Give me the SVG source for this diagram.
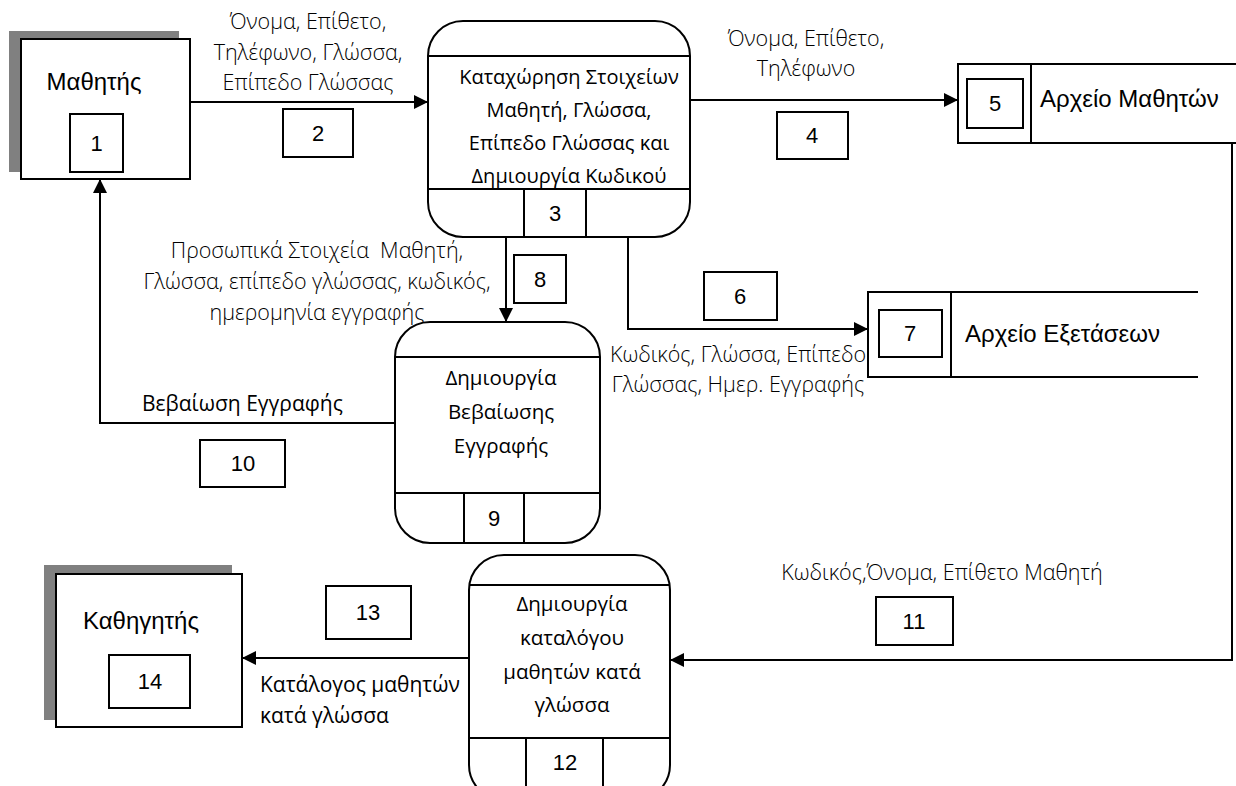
<svg xmlns="http://www.w3.org/2000/svg" width="1236" height="786" viewBox="0 0 1236 786">
<style>
.box{fill:#fff;stroke:#000;stroke-width:2}
.nb{fill:none;stroke:#000;stroke-width:2}
.ln{fill:none;stroke:#000;stroke-width:2}
.sh{fill:#808080}
.name{font-family:"Liberation Sans",Arial,sans-serif;font-size:24px;fill:#000}
.num{font-family:"Liberation Sans",Arial,sans-serif;font-size:22px;fill:#000;text-anchor:middle}
.ptx{font-family:"Open Sans","Noto Sans",sans-serif;font-size:20px;fill:#000;text-anchor:middle}
.ptx2{font-family:"Open Sans","Noto Sans",sans-serif;font-size:20.5px;fill:#000;text-anchor:middle}
.lbl{font-family:"Open Sans","Noto Sans",sans-serif;font-size:21.5px;font-weight:300;fill:#000;text-anchor:middle;white-space:pre}
.lbr{font-family:"Open Sans","Noto Sans",sans-serif;font-size:21px;fill:#000}
</style>
<defs>
<marker id="arr" viewBox="0 0 14 14" refX="14" refY="7" markerWidth="14" markerHeight="14" markerUnits="userSpaceOnUse" orient="auto">
<path d="M0,0 L14,7 L0,14 Z" fill="#000"/>
</marker>
</defs>
<rect width="1236" height="786" fill="#fff"/>

<g id="connectors">
<path class="ln" d="M190,102 H428" marker-end="url(#arr)"/>
<path class="ln" d="M690,100 H958" marker-end="url(#arr)"/>
<path class="ln" d="M506,237 V322" marker-end="url(#arr)"/>
<path class="ln" d="M628,237 V329 H868" marker-end="url(#arr)"/>
<path class="ln" d="M395,423 H100 V179" marker-end="url(#arr)"/>
<path class="ln" d="M1232,143 V660 H670" marker-end="url(#arr)"/>
<path class="ln" d="M469,658 H242" marker-end="url(#arr)"/>
</g>

<g id="flow-labels">
<text class="lbl" x="308" y="29">Όνομα, Επίθετο,</text>
<text class="lbl" x="308" y="60">Τηλέφωνο, Γλώσσα,</text>
<text class="lbl" x="308" y="90">Επίπεδο Γλώσσας</text>
<rect class="box" x="283" y="109" width="70" height="48"/>
<text class="num" x="318" y="141">2</text>

<text class="lbl" x="806" y="46">Όνομα, Επίθετο,</text>
<text class="lbl" x="806" y="76">Τηλέφωνο</text>
<rect class="box" x="777" y="112" width="71" height="47"/>
<text class="num" x="812" y="143">4</text>

<text class="lbl" x="317" y="258" xml:space="preserve">Προσωπικά Στοιχεία  Μαθητή,</text>
<text class="lbl" x="317" y="289">Γλώσσα, επίπεδο γλώσσας, κωδικός,</text>
<text class="lbl" x="317" y="320">ημερομηνία εγγραφής</text>
<rect class="box" x="514" y="255" width="52" height="48"/>
<text class="num" x="540" y="287">8</text>

<rect class="box" x="704" y="272" width="73" height="48"/>
<text class="num" x="740" y="304">6</text>
<text class="lbl" x="738" y="362">Κωδικός, Γλώσσα, Επίπεδο</text>
<text class="lbl" x="738" y="392">Γλώσσας, Ημερ. Εγγραφής</text>

<text class="lbr" x="142" y="411">Βεβαίωση Εγγραφής</text>
<rect class="box" x="200" y="440" width="85" height="47"/>
<text class="num" x="243" y="471">10</text>

<text class="lbl" x="942" y="580">Κωδικός,Όνομα, Επίθετο Μαθητή</text>
<rect class="box" x="876" y="597" width="77" height="48"/>
<text class="num" x="914" y="629">11</text>

<rect class="box" x="326" y="586" width="85" height="53"/>
<text class="num" x="368" y="620">13</text>
<text class="lbr" x="260" y="692">Κατάλογος μαθητών</text>
<text class="lbr" x="260" y="723">κατά γλώσσα</text>
</g>

<g id="n1">
<rect class="sh" x="9" y="31" width="170" height="141"/>
<rect class="box" x="21" y="39" width="169" height="140"/>
<text class="name" x="94" y="90" text-anchor="middle">Μαθητής</text>
<rect class="box" x="70" y="114" width="53" height="58"/>
<text class="num" x="96.5" y="151">1</text>
</g>

<g id="p3">
<rect class="box" x="428" y="21" width="262" height="216" rx="35"/>
<path class="nb" d="M428,56 H690 M428,189 H690 M524,189 V237 M586,189 V237"/>
<text class="ptx" x="569" y="84">Καταχώρηση Στοιχείων</text>
<text class="ptx" x="569" y="117">Μαθητή, Γλώσσα,</text>
<text class="ptx" x="569" y="150">Επίπεδο Γλώσσας και</text>
<text class="ptx" x="569" y="183">Δημιουργία Κωδικού</text>
<text class="num" x="555" y="221">3</text>
</g>

<g id="d5">
<path class="nb" d="M1236,64 H958 V143 H1236 M1031,64 V143"/>
<rect class="box" x="967" y="79" width="56" height="49"/>
<text class="num" x="995" y="111">5</text>
<text class="name" x="1040" y="107">Αρχείο Μαθητών</text>
</g>

<g id="d7">
<path class="nb" d="M1198,292 H868 V377 H1198 M951,292 V377"/>
<rect class="box" x="879" y="310" width="63" height="47"/>
<text class="num" x="910" y="341">7</text>
<text class="name" x="965" y="342">Αρχείο Εξετάσεων</text>
</g>

<g id="p9">
<rect class="box" x="395" y="322" width="205" height="221" rx="35"/>
<path class="nb" d="M395,357 H600 M395,493 H600 M464,493 V543 M524,493 V543"/>
<text class="ptx2" x="501" y="385">Δημιουργία</text>
<text class="ptx2" x="501" y="419">Βεβαίωσης</text>
<text class="ptx2" x="501" y="453">Εγγραφής</text>
<text class="num" x="494" y="526">9</text>
</g>

<g id="p12">
<rect class="box" x="469" y="555" width="201" height="245" rx="35"/>
<path class="nb" d="M469,585 H670 M469,738 H670 M526,738 V786 M603,738 V786"/>
<text class="ptx2" x="572" y="611">Δημιουργία</text>
<text class="ptx2" x="572" y="645">καταλόγου</text>
<text class="ptx2" x="572" y="679">μαθητών κατά</text>
<text class="ptx2" x="572" y="712">γλώσσα</text>
<text class="num" x="565" y="770">12</text>
</g>

<g id="n14">
<rect class="sh" x="44" y="565" width="188" height="155"/>
<rect class="box" x="56" y="574" width="186" height="153"/>
<text class="name" x="141" y="629" text-anchor="middle">Καθηγητής</text>
<rect class="box" x="109" y="655" width="81" height="53"/>
<text class="num" x="150" y="689">14</text>
</g>
</svg>
